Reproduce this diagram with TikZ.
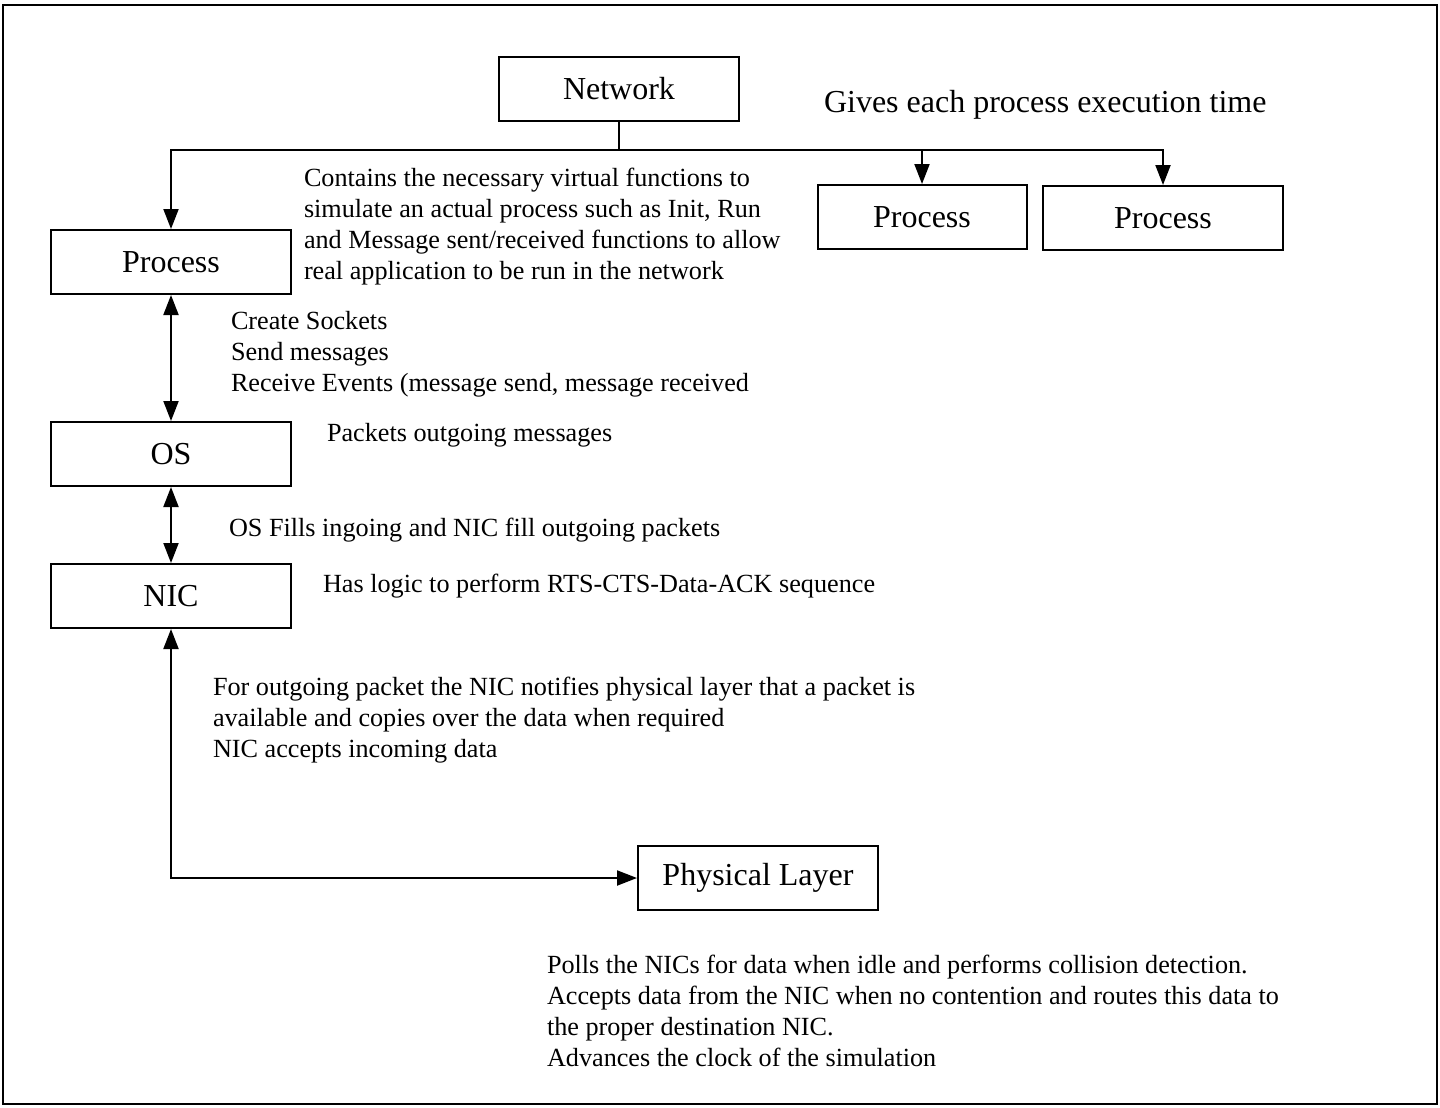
\documentclass[tikz,border=0pt]{standalone}
\usepackage{fontspec}
\setmainfont{Liberation Serif}
\usetikzlibrary{arrows.meta}

\tikzset{
  layerbox/.style={draw, line width=1pt, minimum width=120pt, minimum height=32pt,
    inner sep=0pt, font=\fontsize{16}{19}\selectfont},
  notetext/.style={anchor=base west, align=left, inner sep=0pt,
    font=\fontsize{13.1}{15.4}\selectfont},
  tip/.style={-{Triangle[length=10pt,width=7.5pt]}},
  tips/.style={{Triangle[length=10pt,width=7.5pt]}-{Triangle[length=10pt,width=7.5pt]}}
}

\begin{document}
\begin{tikzpicture}[x=0.5pt, y=-0.5pt, line width=1pt]
    \useasboundingbox (0,0) rectangle (1440,1108);
    % Frame
    \draw[line width=1.2pt] (3,5) rectangle (1437,1104);

    % Layers
    \node[layerbox] (net) at (619,89) {Network};
    \node[layerbox] (procA) at (171,262) {Process};
    \node[layerbox, minimum width=104.5pt] (procB) at (922,217) {Process};
    \node[layerbox] (procC) at (1163,218) {Process};
    \node[layerbox] (os) at (171,454) {OS};
    \node[layerbox] (nic) at (171,596) {NIC};
    \node[layerbox] (phys) at (758,878) {Physical Layer};

    % Network hands out execution time
    \coordinate (split) at (619,150);
    \draw (net.south) -- (split);
    \foreach \p in {procA,procB,procC} {
        \draw[tip] (split) -| (\p.north);
    }

    % Stack links
    \draw[tips] (procA.south) -- (os.north);
    \draw[tips] (os.south) -- (nic.north);
    \draw[tips] (nic.south) |- (phys.west);

    % Descriptions (anchored at the baseline of the last line)
    \node[notetext, font=\fontsize{16}{19}\selectfont] (gives) at (823,112)
        {Gives each process execution time};
    \node[notetext] (procnote) at (303,279)
        {Contains the necessary virtual functions to\\
         simulate an actual process such as Init, Run\\
         and Message sent/received functions to allow\\
         real application to be run in the network};
    \node[notetext] (calls) at (230,391)
        {Create Sockets\\Send messages\\Receive Events (message send, message received};
    \node[notetext] (osnote) at (326,441) {Packets outgoing messages};
    \node[notetext] (fills) at (228,536) {OS Fills ingoing and NIC fill outgoing packets};
    \node[notetext] (nicnote) at (322,592) {Has logic to perform RTS-CTS-Data-ACK sequence};
    \node[notetext] (outnote) at (212,757)
        {For outgoing packet the NIC notifies physical layer that a packet is\\
         available and copies over the data when required\\
         NIC accepts incoming data};
    \node[notetext] (physnote) at (546,1066)
        {Polls the NICs for data when idle and performs collision detection.\\
         Accepts data from the NIC when no contention and routes this data to\\
         the proper destination NIC.\\
         Advances the clock of the simulation};
\end{tikzpicture}
\end{document}
